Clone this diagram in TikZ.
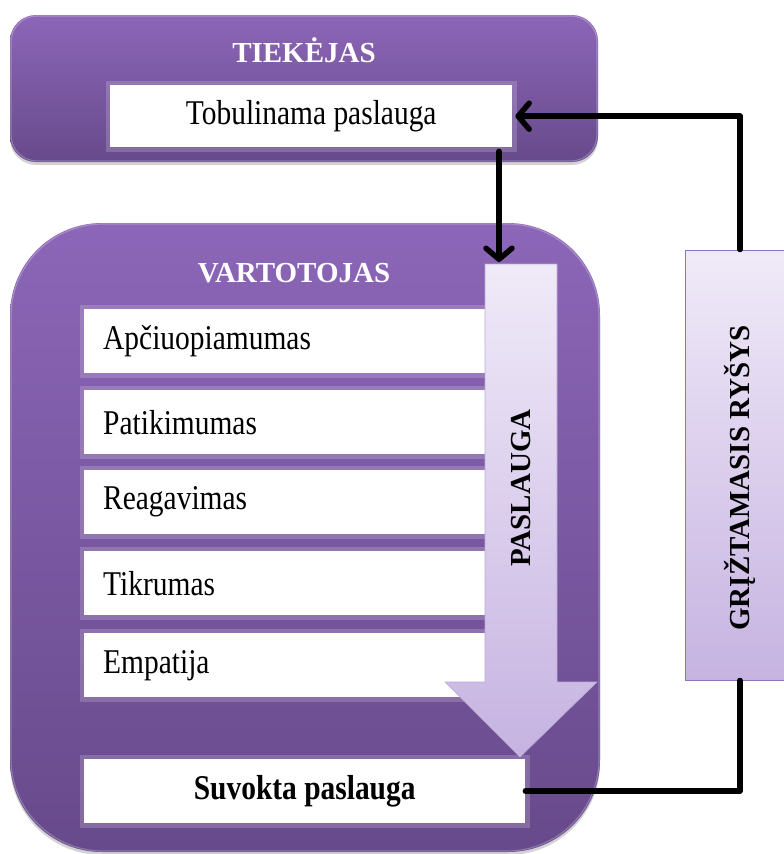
\documentclass[tikz,border=0pt]{standalone}
\usepackage{fontspec}
\setmainfont{Liberation Serif}
\usepackage{graphicx}
\usetikzlibrary{arrows.meta,shadows,calc}

\definecolor{plTop}{HTML}{8C66B8}
\definecolor{plBot}{HTML}{674A8B}
\definecolor{lvTop}{HTML}{F0EAF8}
\definecolor{lvBot}{HTML}{C6B3E1}
\definecolor{lvEdge}{HTML}{8F73B8}

\newcommand\bodytxt[1]{\scalebox{0.95}[1.12]{\fontsize{31}{36}\selectfont #1}}

\tikzset{
  panel/.style={top color=plTop, bottom color=plBot, draw=none,
    drop shadow={opacity=0.35, shadow xshift=0pt, shadow yshift=-3pt}},
  rim/.style={draw=white, draw opacity=0.25, line width=1.2pt},
  whitebox/.style={fill=white, draw=none, rectangle, inner sep=0pt,
    preaction={draw=white, draw opacity=0.18, line width=9pt}},
  listbox/.style={whitebox, anchor=north west, minimum width=401pt,
    minimum height=64pt, text width=363pt, align=left, inner xsep=19pt},
  headtxt/.style={text=white, font=\bfseries\fontsize{29}{34}\selectfont},
  conn/.style={line width=5.5pt, line cap=round, line join=round, black},
  tip/.style={-{Straight Barb[length=11pt, width=26pt, round]}},
}

\begin{document}
\begin{tikzpicture}[x=1pt, y=-1pt]
\useasboundingbox (0,0) rectangle (784,854);

% supplier panel
\path[panel, rounded corners=26pt] (10,15) rectangle (598,162);
\path[rim, rounded corners=26pt] (11,16) rectangle (597,161);
\node[headtxt] (tiek) at (304,50) {TIEKĖJAS};
\node[whitebox, anchor=north west, minimum width=402pt, minimum height=62pt]
  (tob) at (110,85) {\bodytxt{Tobulinama paslauga}};

% consumer panel
\path[panel, rounded corners=92pt] (10,223) rectangle (600,852);
\path[rim, rounded corners=92pt] (11,224) rectangle (599,851);
\node[headtxt] (vart) at (294,273) {VARTOTOJAS};

\node[listbox] (apc) at (84,309) {\bodytxt{Apčiuopiamumas}};
\node[listbox] (pat) at (84,390) {\bodytxt{Patikimumas}};
\node[listbox] (rea) at (84,470) {\bodytxt{Reagavimas}};
\node[listbox] (tik) at (84,551) {\bodytxt{Tikrumas}};
\node[listbox] (emp) at (84,633) {\bodytxt{Empatija}};

\node[whitebox, anchor=north west, minimum width=441pt, minimum height=64pt]
  (suv) at (84,759) {\bodytxt{\bfseries Suvokta paslauga}};

% service flow arrow
\path[top color=lvTop, bottom color=lvBot, draw=lvEdge!60, line width=0.6pt]
  (485,264) -- (557,264) -- (557,682) -- (597,682) -- (520,757)
  -- (445,682) -- (485,682) -- cycle;
\coordinate (pastop) at (499,262);
\node[rotate=90, font=\bfseries\fontsize{29}{34}\selectfont] (pas) at (521,488) {PASLAUGA};

% feedback box
\node[top color=lvTop, bottom color=lvBot, draw=lvEdge, line width=1pt,
  minimum width=110pt, minimum height=430pt, inner sep=0pt] (fb) at (740,465) {};
\node[rotate=90, font=\bfseries\fontsize{29}{34}\selectfont] (fbt) at (740,478)
  {GRĮŽTAMASIS RYŠYS};

% connectors
\draw[conn, tip] ($(tob.south west)!(pastop)!(tob.south east)+(0,4)$) -- (pastop);
\draw[conn] (suv.east) -- (suv.east -| fb.south) -- (fb.south);
\draw[conn, tip] (fb.north) |- ($(tob.east)+(3,0)$);
\end{tikzpicture}
\end{document}
